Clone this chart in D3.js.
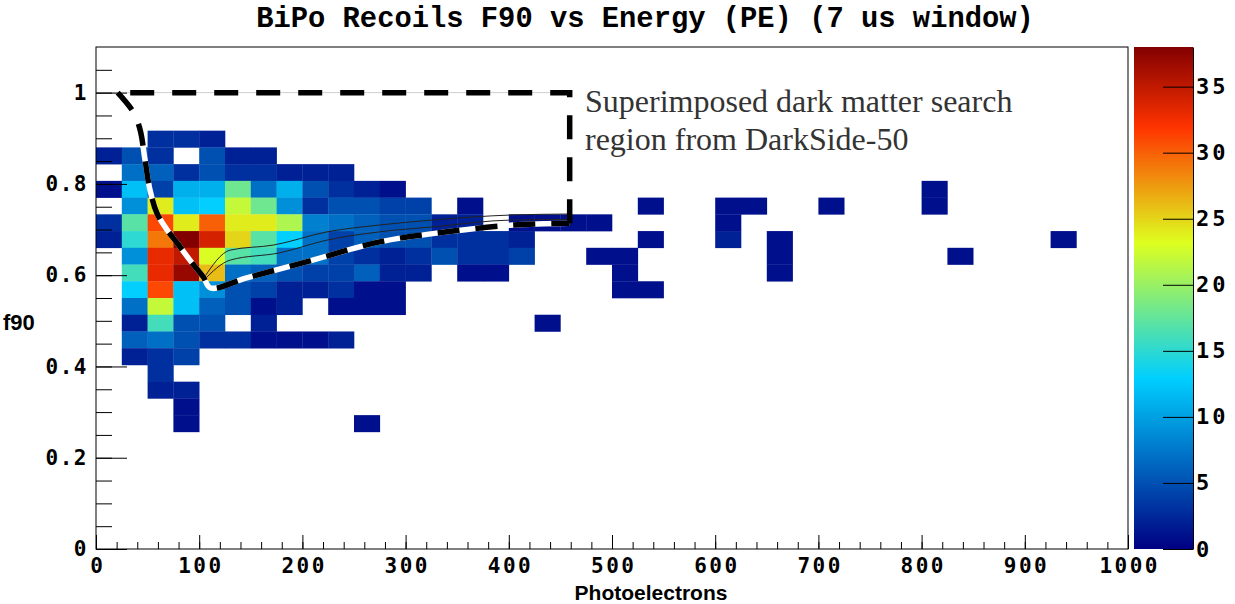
<!DOCTYPE html>
<html>
<head>
<meta charset="utf-8">
<script src="https://cdn.jsdelivr.net/npm/d3@7"></script>
<style>
body{margin:0;background:#fff;}
.tick line{stroke:#000;}
</style>
</head>
<body>
<div id="chart"></div>
<script>
const svgWidth = 1235;
const svgHeight = 604;
const plot = {left:96, right:1128, top:47, bottom:549};
const zbar = {left:1134, right:1193};

// binning of the histogram
const xBinWidth = 25;          // PE per bin
const yBinWidth = 1.1/30;      // f90 per bin
const zMax = 38;

// counts per f90 bin (index = f90 bin), listed from PE bin 0 upward
const rowBins = [24,23,22,21,20,19,18,17,16,15,14,13,12,11,10,9,8,7];
const rowCounts = [
  [0,0,3,3,2],
  [2,5,3,0,5,2,2],
  [0,7,6,3,5,3,3,2,2,2],
  [1,12,4,11,11,18,7,11,5,3,2,1],
  [0,9,24,12,13,22,18,9,3,5,5,4,4,0,1],
  [3,17,31,24,30,24,24,21,8,7,6,5,5,2,2,0,1,1,1,1],
  [2,15,29,38,34,25,17,13,7,4,6,5,5,3,3,3,2],
  [0,9,33,35,23,17,16,7,7,4,3,2,3,5,3,3,4,0,0,1,1],
  [0,16,33,37,26,7,6,5,4,4,6,2,2,0,1,1,0,0,0,0,1],
  [0,13,31,12,9,5,4,2,2,3,1,1,0,0,0,0,0,0,0,0,1,1],
  [0,7,22,12,6,5,1,2,0,1,1,1],
  [0,2,16,5,5,0,2,0,0,0,0,0,0,0,0,0,0,1],
  [0,6,7,5,3,3,1,1,1,2],
  [0,2,3,4],
  [0,0,3],
  [0,0,2,2],
  [0,0,0,1],
  [0,0,0,1,0,0,0,0,0,0,1]
];
// isolated high-PE bins: [PE bin, f90 bin, count]
const tailCells = [
  [32,21,1],[21,20,1],[24,20,1],[25,20,1],[28,20,1],[32,20,1],
  [24,19,1],[21,18,1],[24,18,2],[26,18,1],[37,18,1],
  [26,17,1],[33,17,1],[26,16,1]
];

// DarkSide-50 search region overlay (PE, f90)
const regionCurve = [[21,1.0],[36,0.958],[42.6,0.92],[47.5,0.853],[52.3,0.787],[59,0.736],[69,0.699],
  [78.5,0.671],[91,0.633],[104,0.596],[111,0.572],[146,0.594],[210,0.633],[275,0.673],[340,0.695],[404,0.71],[459,0.714]];
const regionBox = [[459,0.714],[459,1.0],[21,1.0]];
const accUpper = [[104,0.592],[130,0.655],[172,0.666],[224,0.695],[275,0.71],[327,0.721],[404,0.732],[459,0.734]];
const accLower = [[104,0.588],[130,0.633],[178,0.649],[224,0.677],[275,0.695],[327,0.706],[404,0.721],[459,0.722]];

const xTicks = d3.range(0,1001,100);
const xMinor = d3.range(0,1001,20);
const yTicks = [0,0.2,0.4,0.6,0.8,1];
const yMinor = d3.range(0,1.1,0.05);
const zTicks = [0,5,10,15,20,25,30,35];
const paletteStops = [0,0.34,0.61,0.84,1];
const paletteColors = ["rgb(0,0,130)","rgb(0,207,255)","rgb(222,255,31)","rgb(255,51,0)","rgb(130,0,0)"];

document.addEventListener("DOMContentLoaded", function(){ drawChart(); });

function drawChart(){
  const svg = d3.select("#chart").append("svg")
      .attr("width", svgWidth).attr("height", svgHeight)
      .style("background","#fff");

  const xscale = d3.scaleLinear().domain([0,1000]).range([plot.left, plot.right]);
  const yscale = d3.scaleLinear().domain([0,1.1]).range([plot.bottom, plot.top]);
  const zscale = d3.scaleLinear().domain([0,zMax]).range([plot.bottom, plot.top]);
  const color = d3.scaleLinear().domain(paletteStops.map(s => s*zMax)).range(paletteColors);

  // cells
  const cells = [];
  rowBins.forEach(function(k, r){
    rowCounts[r].forEach(function(c, i){ if(c > 0) cells.push({i:i, k:k, c:c}); });
  });
  tailCells.forEach(function(t){ cells.push({i:t[0], k:t[1], c:t[2]}); });

  svg.append("g").selectAll("rect").data(cells).enter().append("rect")
    .attr("x", d => xscale(d.i*xBinWidth))
    .attr("y", d => yscale((d.k+1)*yBinWidth))
    .attr("width", d => xscale((d.i+1)*xBinWidth) - xscale(d.i*xBinWidth) + 0.3)
    .attr("height", d => yscale(d.k*yBinWidth) - yscale((d.k+1)*yBinWidth) + 0.3)
    .attr("fill", d => color(d.c));

  // overlay
  const line = d3.line().x(d => xscale(d[0])).y(d => yscale(d[1]));
  const smooth = d3.line().x(d => xscale(d[0])).y(d => yscale(d[1])).curve(d3.curveMonotoneX);
  const curveLine = d3.line().x(d => xscale(d[0])).y(d => yscale(d[1])).curve(d3.curveCatmullRom);

  svg.append("path").datum([[0,1.0],[459,1.0]]).attr("d", line)
    .attr("fill","none").attr("stroke","#cfcfcf").attr("stroke-width",1);
  [accUpper, accLower].forEach(function(a){
    svg.append("path").datum(a).attr("d", smooth)
      .attr("fill","none").attr("stroke","#222").attr("stroke-width",1);
  });
  svg.append("path").datum(regionCurve).attr("d", curveLine)
    .attr("fill","none").attr("stroke","#fff").attr("stroke-width",5.5);
  svg.append("path").datum(regionCurve).attr("d", curveLine)
    .attr("fill","none").attr("stroke","#000").attr("stroke-width",5.5)
    .attr("stroke-dasharray","22,16");
  svg.append("path").datum(regionBox).attr("d", line)
    .attr("fill","none").attr("stroke","#000").attr("stroke-width",5.5)
    .attr("stroke-dasharray","24,18");

  // frame
  svg.append("rect").attr("x",plot.left).attr("y",plot.top)
    .attr("width",plot.right-plot.left).attr("height",plot.bottom-plot.top)
    .attr("fill","none").attr("stroke","#000").attr("stroke-width",1);

  const tickFont = "'DejaVu Sans Mono', monospace";

  // x axis
  svg.append("g").attr("transform","translate(0,"+plot.bottom+")")
    .call(d3.axisBottom(xscale).tickValues(xMinor).tickSizeInner(-7).tickSizeOuter(0).tickFormat(""))
    .call(g => g.select(".domain").remove());
  svg.append("g").attr("transform","translate(0,"+plot.bottom+")")
    .call(d3.axisBottom(xscale).tickValues(xTicks).tickSizeInner(-14).tickSizeOuter(0).tickPadding(9)
      .tickFormat(d3.format("d")))
    .call(g => g.select(".domain").remove())
    .selectAll("text").attr("font-family",tickFont).attr("font-weight","bold")
      .attr("font-size",21).attr("letter-spacing",2.5).attr("dx",1.2).attr("fill","#000");

  // y axis
  svg.append("g").attr("transform","translate("+plot.left+",0)")
    .call(d3.axisLeft(yscale).tickValues(yMinor).tickSizeInner(-16).tickSizeOuter(0).tickFormat(""))
    .call(g => g.select(".domain").remove());
  svg.append("g").attr("transform","translate("+plot.left+",0)")
    .call(d3.axisLeft(yscale).tickValues(yTicks).tickSizeInner(-31).tickSizeOuter(0).tickPadding(8)
      .tickFormat(d3.format("~g")))
    .call(g => g.select(".domain").remove())
    .selectAll("text").attr("font-family",tickFont).attr("font-weight","bold")
      .attr("font-size",21).attr("letter-spacing",1.5).attr("fill","#000");

  // colour bar
  const grad = svg.append("defs").append("linearGradient").attr("id","pal")
    .attr("x1","0").attr("y1","1").attr("x2","0").attr("y2","0");
  paletteStops.forEach(function(s, i){
    grad.append("stop").attr("offset", s).attr("stop-color", paletteColors[i]);
  });
  svg.append("rect").attr("x",zbar.left).attr("y",plot.top)
    .attr("width",zbar.right-zbar.left).attr("height",plot.bottom-plot.top)
    .attr("fill","url(#pal)");
  svg.append("g").attr("transform","translate("+zbar.right+",0)")
    .call(d3.axisRight(zscale).tickValues(zTicks).tickSizeInner(-30).tickSizeOuter(0).tickPadding(3))
    .call(g => g.select(".domain").attr("stroke","#000"))
    .selectAll("text").attr("font-family",tickFont).attr("font-weight","bold")
      .attr("font-size",22).attr("letter-spacing",3).attr("fill","#000");

  // titles
  svg.append("text").attr("x",645).attr("y",27).attr("text-anchor","middle")
    .attr("font-family","'Liberation Mono', 'Courier New', monospace").attr("font-weight","bold")
    .attr("font-size",28.8).text("BiPo Recoils F90 vs Energy (PE) (7 us window)");
  svg.append("text").attr("x",651).attr("y",600).attr("text-anchor","middle")
    .attr("font-family","'Liberation Sans', Arial, sans-serif").attr("font-weight","bold")
    .attr("font-size",21).text("Photoelectrons");
  svg.append("text").attr("x",3).attr("y",330)
    .attr("font-family","'Liberation Sans', Arial, sans-serif").attr("font-weight","bold")
    .attr("font-size",22).text("f90");

  // annotation
  const note = svg.append("text").attr("font-family","'Liberation Serif', 'Times New Roman', serif")
    .attr("font-size",32).attr("fill","#333");
  note.append("tspan").attr("x",585).attr("y",112).text("Superimposed dark matter search");
  note.append("tspan").attr("x",585).attr("y",150).text("region from DarkSide-50");
}
</script>
</body>
</html>
